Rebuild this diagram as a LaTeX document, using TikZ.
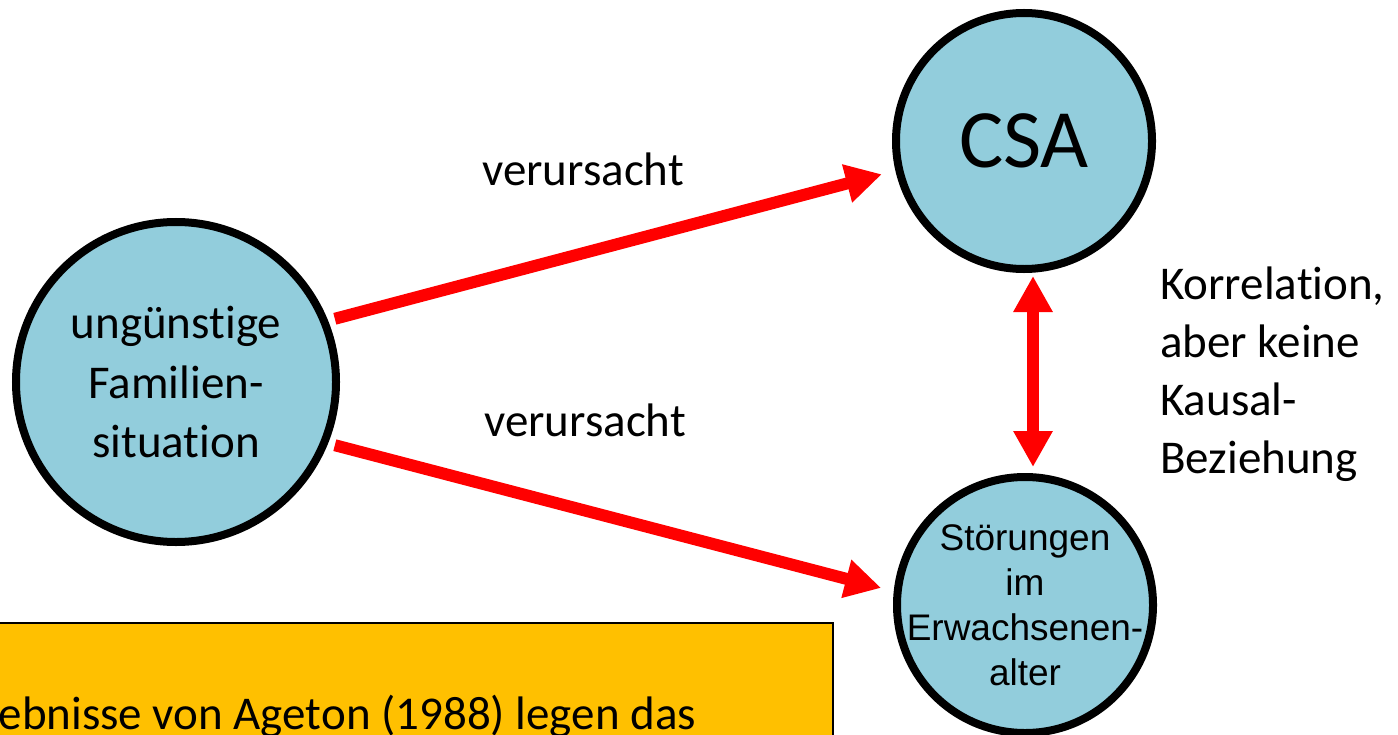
\documentclass[tikz,border=0pt]{standalone}
\usepackage{fontspec}
\setmainfont{Carlito}[Ligatures=CommonOff]
\newfontfamily\arialfont{Liberation Sans}
\usepackage{tikz}
\usetikzlibrary{positioning,calc,arrows.meta,shapes}
\definecolor{nodeblue}{RGB}{146,205,220}
\definecolor{boxgold}{RGB}{255,192,0}

\begin{document}
\begin{tikzpicture}[x=1bp,y=-1bp,
    >={Triangle[length=36bp,width=37bp]},
    bubble/.style={draw,circle,fill=nodeblue,line width=8bp,inner sep=0pt,align=center},
    causal/.style={draw=red,line width=12bp,->},
    plain/.style={inner sep=0pt,font=\fontsize{47bp}{58bp}\selectfont}]
    \useasboundingbox (0,0) rectangle (1398,734);
    \clip (0,0) rectangle (1398,734);
    % circles
    \node[bubble,minimum size=320bp,font=\fontsize{47bp}{59bp}\selectfont] (fam) at (176,382) {ungünstige\\Familien-\\situation};
    \node[bubble,minimum size=256bp,font=\fontsize{83bp}{90bp}\selectfont] (csa) at (1024,141) {CSA};
    \node[bubble,minimum size=256bp,inner sep=-20bp,font=\arialfont\fontsize{37bp}{45bp}\selectfont] (dis) at (1025,605) {Störungen\\im\\Erwachsenen-\\alter};
    % arrows
    \draw[causal,shorten <=7bp,shorten >=14bp] (fam.22) -- (csa.193);
    \draw[causal,shorten <=7bp,shorten >=13bp] (fam.-22) -- (dis.174);
    \draw[causal,<->,shorten <=3bp,shorten >=6bp] ([xshift=9bp]csa.south) -- ([xshift=8bp]dis.north);
    % labels
    \node[plain,anchor=base west] (cause1) at (482,185) {verursacht};
    \node[plain,anchor=base west] (cause2) at (484,436) {verursacht};
    \node[plain,anchor=north west,align=left] (corr) at (1160,267) {Korrelation,\\aber keine\\Kausal-\\Beziehung};
    % note box
    \node[draw,fill=boxgold,line width=2bp,minimum width=932bp,minimum height=200bp,anchor=north west] (note) at (-100,622) {};
    \node[plain,anchor=base west] (notetext) at (-62,729) {Ergebnisse von Ageton (1988) legen das};
\end{tikzpicture}
\end{document}
